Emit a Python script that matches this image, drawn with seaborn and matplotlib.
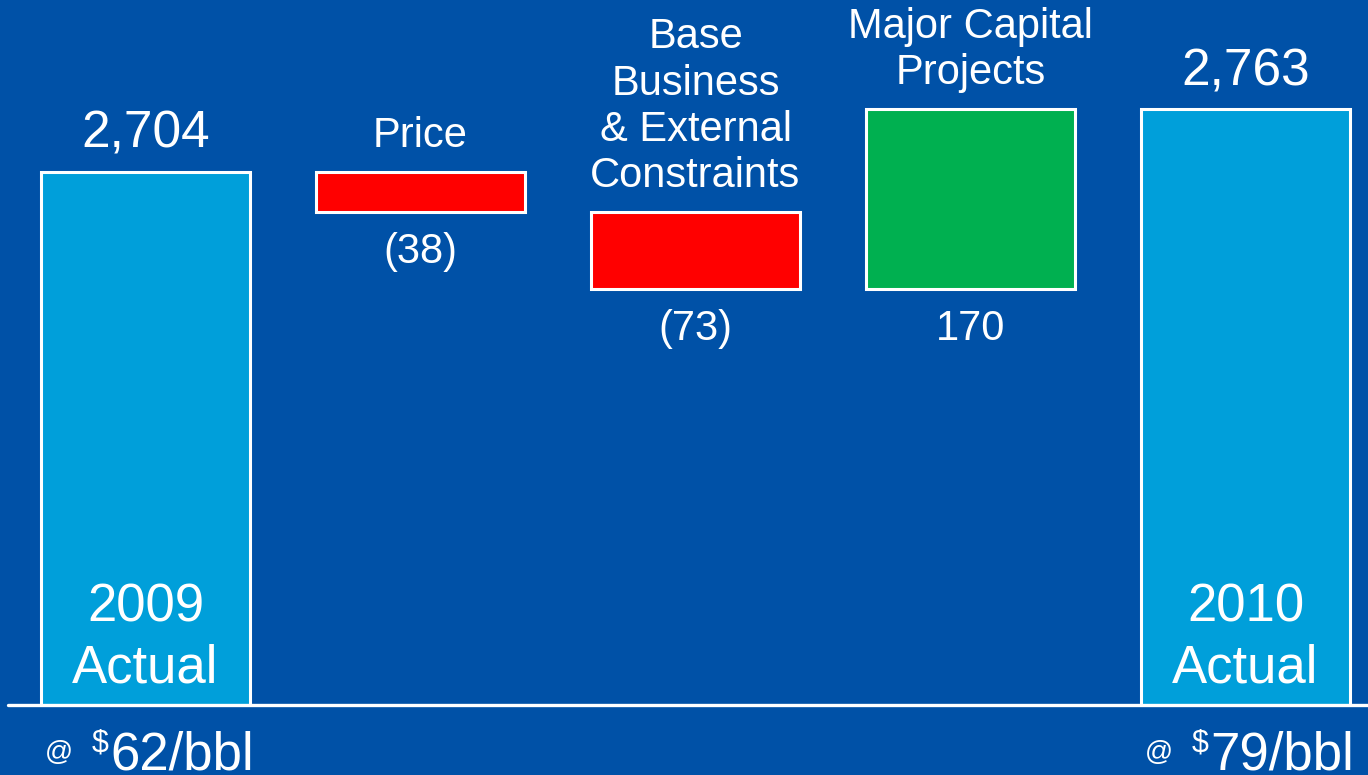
import matplotlib
matplotlib.use("Agg")
import matplotlib.pyplot as plt
import pandas as pd
import seaborn as sns

# ---- data -------------------------------------------------------------
categories = ["2009 Actual", "Price", "Base Business & External Constraints",
              "Major Capital Projects", "2010 Actual"]
start_total = 2704
changes = [-38, -73, 170]
end_total = 2763
value_labels = ["2,704", "(38)", "(73)", "170", "2,763"]
header_labels = [None, "Price", "Base\nBusiness\n& External\nConstraints",
                 "Major Capital\nProjects", None]
inside_labels = ["2009\nActual", None, None, None, "2010\nActual"]
oil_prices = ["62", "79"]

# ---- colours ----------------------------------------------------------
BG = "#0051A7"
TOTAL = "#009FDA"
DOWN = "#FF0000"
UP = "#00B050"
WHITE = "#FFFFFF"

# ---- waterfall geometry from the values ------------------------------
bottoms, heights, colors = [0], [start_total], [TOTAL]
running = start_total
for c in changes:
    new = running + c
    bottoms.append(min(running, new))
    heights.append(abs(c))
    colors.append(UP if c > 0 else DOWN)
    running = new
bottoms.append(0)
heights.append(end_total)
colors.append(TOTAL)

df = pd.DataFrame({"category": categories, "height": heights})

sns.set_style("white")
plt.rcParams["font.family"] = ["Liberation Sans", "DejaVu Sans"]

fig = plt.figure(figsize=(13.68, 7.75), dpi=100, facecolor=BG)
ax = fig.add_axes([0, 70 / 775, 1, 705 / 775])
ax.set_facecolor(BG)

sns.barplot(data=df, x="category", y="height", hue="category",
            order=categories, hue_order=categories,
            palette=dict(zip(categories, colors)), saturation=1, width=0.76,
            edgecolor=WHITE, linewidth=2.2, legend=False, ax=ax)

for patch, b in zip(ax.patches, bottoms):
    patch.set_y(b)

y0 = 2200
ax.set_ylim(y0, y0 + 705 / 1.058)
ax.set_xlim(-145.5 / 275, (1368 - 145.5) / 275)
ax.set_axis_off()

# baseline
ax.axhline(y0, xmin=8 / 1368, xmax=1, color=WHITE, lw=2.4, clip_on=False, zorder=5)

tops = [b + h for b, h in zip(bottoms, heights)]

# labels
for i, cat in enumerate(categories):
    top = tops[i]
    if i in (0, len(categories) - 1):
        ax.annotate(value_labels[i], xy=(i, top), xytext=(0, 24),
                    textcoords="offset pixels", ha="center", va="baseline",
                    color=WHITE, fontsize=37)
        ax.annotate(inside_labels[i], xy=(i, y0), xytext=(0, 23),
                    textcoords="offset pixels", ha="center", va="baseline",
                    color=WHITE, fontsize=38, linespacing=1.27)
    else:
        ax.annotate(header_labels[i], xy=(i, top), xytext=(0, 25),
                    textcoords="offset pixels", ha="center", va="baseline",
                    color=WHITE, fontsize=30, linespacing=1.2)
        ax.annotate(value_labels[i], xy=(i, bottoms[i]), xytext=(0, -51),
                    textcoords="offset pixels", ha="center", va="baseline",
                    color=WHITE, fontsize=30)

# oil price notes under the total bars
for i, price in zip((0, len(categories) - 1), oil_prices):
    ax.annotate("@", xy=(i, y0), xytext=(-101, -55), textcoords="offset pixels",
                ha="left", va="baseline", color=WHITE, fontsize=20,
                annotation_clip=False)
    ax.annotate("$", xy=(i, y0), xytext=(-37, -46), textcoords="offset pixels",
                ha="right", va="baseline", color=WHITE, fontsize=22,
                annotation_clip=False)
    ax.annotate(f"{price}/bbl", xy=(i, y0), xytext=(-35, -64),
                textcoords="offset pixels", ha="left", va="baseline",
                color=WHITE, fontsize=38, annotation_clip=False)

fig.savefig("out.png", dpi=100, facecolor=BG)
